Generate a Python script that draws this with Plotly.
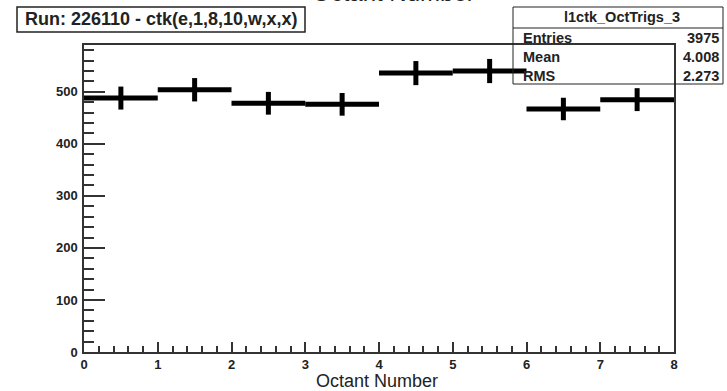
import numpy as np
import plotly.graph_objects as go

# ---- data ----
octant_centers = [0.5, 1.5, 2.5, 3.5, 4.5, 5.5, 6.5, 7.5]
octant_counts = [488, 504, 478, 476, 536, 540, 467, 485]
bin_half_width = [0.5] * 8
x_tick_vals = [0, 1, 2, 3, 4, 5, 6, 7, 8]
y_tick_vals = [0, 100, 200, 300, 400, 500]
hist_name = "l1ctk_OctTrigs_3"
stat_labels = ["Entries", "Mean", "RMS"]
stat_values = ["3975", "4.008", "2.273"]
run_label = "Run: 226110 - ctk(e,1,8,10,w,x,x)"
axis_title = "Octant Number"

W, H = 727, 391
L, R, T, B = 84, 674, 45, 352
FONT = "Liberation Sans, Arial"

def px(x):
    return (x - L) / (R - L)

def py(y):
    return (B - y) / (B - T)

errs = np.sqrt(np.array(octant_counts, dtype=float))

fig = go.Figure()
fig.add_trace(go.Scatter(
    x=octant_centers, y=octant_counts, mode="markers",
    marker=dict(size=1, color="black"),
    error_x=dict(type="data", array=bin_half_width, thickness=5, width=0, color="black"),
    error_y=dict(type="data", array=errs, thickness=5, width=0, color="black"),
    showlegend=False, hoverinfo="skip",
))

tickfont = dict(family=FONT, size=13, color="#222", weight="bold")
fig.update_layout(
    width=W, height=H,
    margin=dict(l=L, r=W - R, t=T, b=H - B, pad=0),
    paper_bgcolor="white", plot_bgcolor="white",
    xaxis=dict(range=[0, 8], tickvals=x_tick_vals, ticks="inside", ticklen=10, tickwidth=1.5,
               tickcolor="#333", showline=True, linecolor="#333", linewidth=1.5, mirror=True,
               showgrid=False, zeroline=False, tickfont=tickfont, ticklabelstandoff=0,
               minor=dict(dtick=0.2, ticks="inside", ticklen=6, tickwidth=1.5, tickcolor="#333", showgrid=False)),
    yaxis=dict(range=[0, 590], tickvals=y_tick_vals, ticks="inside", ticklen=21, tickwidth=1.5,
               tickcolor="#333", showline=True, linecolor="#333", linewidth=1.5, mirror=True,
               showgrid=False, zeroline=False, tickfont=tickfont, ticklabelstandoff=2,
               minor=dict(dtick=20, ticks="inside", ticklen=10, tickwidth=1.5, tickcolor="#333", showgrid=False)),
    font=dict(family=FONT, color="#222"),
)

shapes = []
annotations = []
# run box
shapes.append(dict(type="rect", xref="paper", yref="paper", x0=px(17), x1=px(305), y0=py(32), y1=py(7),
                   line=dict(color="#222", width=1.5), fillcolor="rgba(0,0,0,0)", layer="above"))
annotations.append(dict(xref="paper", yref="paper", x=px(161), y=py(19.5), text="<b>" + run_label + "</b>",
                        showarrow=False, xanchor="center", yanchor="middle",
                        font=dict(size=18, color="#222", family=FONT)))
# stats box
shapes.append(dict(type="rect", xref="paper", yref="paper", x0=px(513), x1=px(723), y0=py(84), y1=py(7),
                   line=dict(color="#222", width=1), fillcolor="rgba(0,0,0,0)", layer="above"))
shapes.append(dict(type="line", xref="paper", yref="paper", x0=px(513), x1=px(723), y0=py(28), y1=py(28),
                   line=dict(color="#222", width=1), layer="above"))
annotations.append(dict(xref="paper", yref="paper", x=px(622), y=py(17.5), text="<b>" + hist_name + "</b>",
                        showarrow=False, xanchor="center", yanchor="middle",
                        font=dict(size=14.5, color="#222", family=FONT)))
row_y = [37.5, 57, 76]
for lab, val, ry in zip(stat_labels, stat_values, row_y):
    annotations.append(dict(xref="paper", yref="paper", x=px(521), y=py(ry), text="<b>" + lab + "</b>",
                            showarrow=False, xanchor="left", yanchor="middle",
                            font=dict(size=14.5, color="#222", family=FONT)))
    annotations.append(dict(xref="paper", yref="paper", x=px(721), y=py(ry), text="<b>" + val + "</b>",
                            showarrow=False, xanchor="right", yanchor="middle",
                            font=dict(size=14.5, color="#222", family=FONT)))
# top (cut) title
annotations.append(dict(xref="paper", yref="paper", x=px(393), y=py(8), text=axis_title,
                        showarrow=False, xanchor="center", yanchor="bottom",
                        font=dict(size=24, color="#222", family=FONT)))
# bottom axis title
annotations.append(dict(xref="paper", yref="paper", x=px(377), y=py(380.5), text=axis_title,
                        showarrow=False, xanchor="center", yanchor="middle",
                        font=dict(size=18, color="#222", family=FONT)))

fig.update_layout(shapes=shapes, annotations=annotations)
fig.write_html("out.html", config={"displayModeBar": False},
               post_script="document.body.style.margin='0';document.body.style.overflow='hidden';")
